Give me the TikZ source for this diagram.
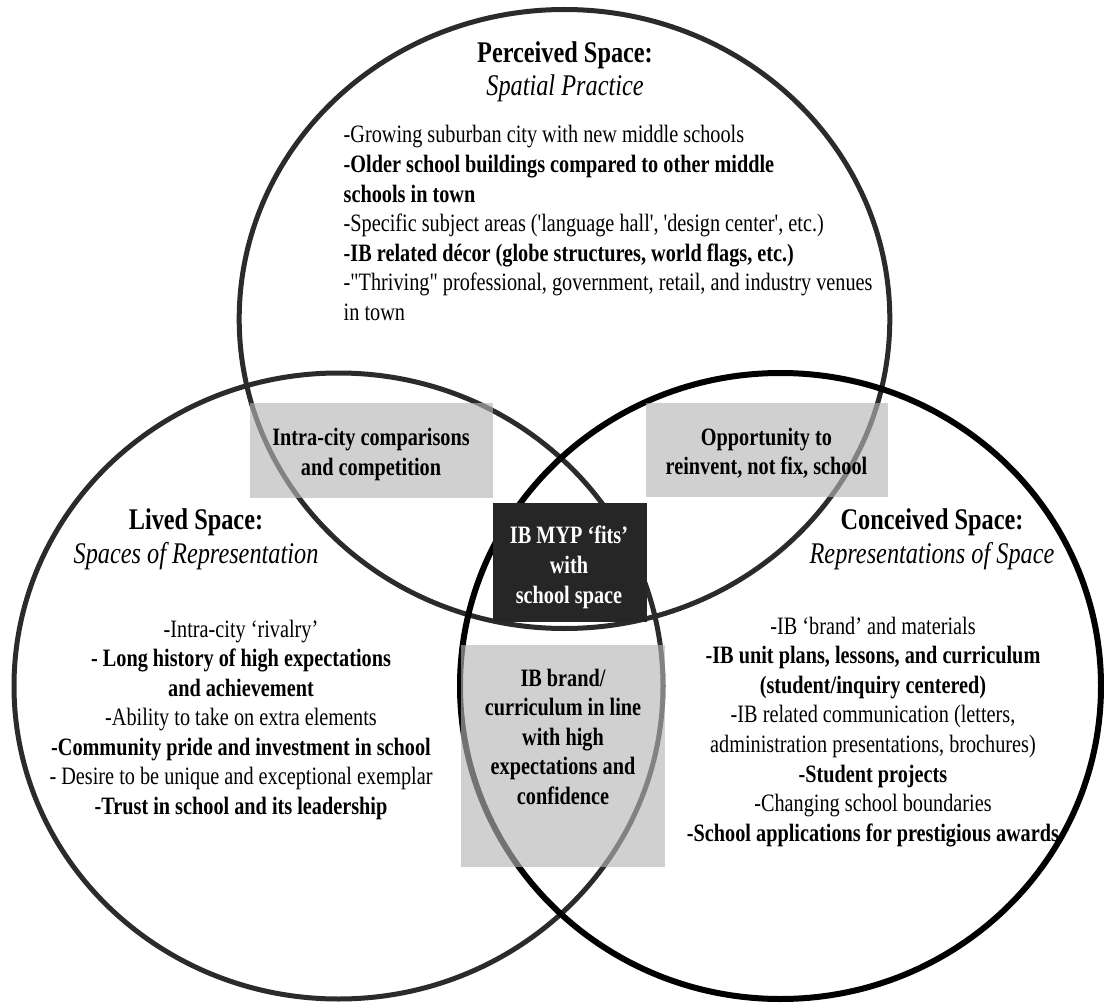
\documentclass[tikz,border=0pt]{standalone}
\usepackage{fontspec}
\setmainfont{Liberation Serif}[FakeStretch=0.81, Ligatures=TeXOff]
\begin{document}
\begin{tikzpicture}[x=1pt,y=-1pt,
  circA/.style={draw=black!83, line width=5pt},
  circB/.style={draw=black, line width=6pt},
  graybox/.style={fill=black!29, fill opacity=0.63, draw=none, inner sep=0pt},
  darkbox/.style={fill=black!85, draw=none, inner sep=0pt},
  body/.style={font=\fontsize{25}{29.5}\selectfont, inner sep=0pt},
  ttl/.style={font=\fontsize{30}{34}\selectfont\bfseries, inner sep=0pt},
  ttlit/.style={font=\fontsize{30}{34}\selectfont\itshape, inner sep=0pt}]
\useasboundingbox (0,0) rectangle (1104,1003);
% circles
\draw[circA] (564.5,319) ellipse [x radius=325.3, y radius=309.5];
\draw[circA] (338.5,686) ellipse [x radius=324.5, y radius=313];
\draw[circB] (780.5,686) ellipse [x radius=320.5, y radius=313];
% boxes
\node[graybox, minimum width=242.5pt, minimum height=95pt] (bintra) at (371.25,450.5) {};
\node[graybox, minimum width=242pt, minimum height=94pt] (bopp) at (766.5,450.2) {};
\node[graybox, minimum width=203.5pt, minimum height=222pt] (bbrand) at (562.75,756) {};
\node[darkbox, minimum width=153.5pt, minimum height=119pt] (bfits) at (569.75,562.2) {};
% titles
\node[ttl, anchor=base] (tperc) at (565,63) {Perceived Space:};
\node[ttlit, anchor=base] (tperc2) at (565,96) {Spatial Practice};
\node[ttl, anchor=base] (tlived) at (196,529) {Lived Space:};
\node[ttlit, anchor=base] (tlived2) at (196,563) {Spaces of Representation};
\node[ttl, anchor=base] (tconc) at (932,529) {Conceived Space:};
\node[ttlit, anchor=base] (tconc2) at (932,563) {Representations of Space};
% top list
\foreach \t [count=\i from 0] in {
  {-Growing suburban city with new middle schools},
  {\textbf{-Older school buildings compared to other middle}},
  {\textbf{schools in town}},
  {-Specific subject areas ('language hall', 'design center', etc.)},
  {\textbf{-IB related décor (globe structures, world flags, etc.)}},
  {-"Thriving" professional, government, retail, and industry venues},
  {in town}}
  \node[body, anchor=base west] (ptop\i) at (343.5,{143+29.6*\i}) {\t};
% lived list
\foreach \t [count=\i from 0] in {
  {-Intra-city ‘rivalry’},
  {\textbf{- Long history of high expectations}},
  {\textbf{and achievement}},
  {-Ability to take on extra elements},
  {\textbf{-Community pride and investment in school}},
  {- Desire to be unique and exceptional exemplar},
  {\textbf{-Trust in school and its leadership}}}
  \node[body, anchor=base] (plived\i) at (241,{637+29.5*\i}) {\t};
% conceived list
\foreach \t [count=\i from 0] in {
  {-IB ‘brand’ and materials},
  {\textbf{-IB unit plans, lessons, and curriculum}},
  {\textbf{(student/inquiry centered)}},
  {-IB related communication (letters,},
  {administration presentations, brochures)},
  {\textbf{-Student projects}},
  {-Changing school boundaries},
  {\textbf{-School applications for prestigious awards}}}
  \node[body, anchor=base] (pconc\i) at (873,{634+29.6*\i}) {\t};
% box texts
\foreach \t [count=\i from 0] in {{Intra-city comparisons},{and competition}}
  \node[body, font=\fontsize{25}{29.5}\selectfont\bfseries, anchor=base] (xintra\i) at (371,{445+30*\i}) {\t};
\foreach \t [count=\i from 0] in {{Opportunity to},{reinvent, not fix, school}}
  \node[body, font=\fontsize{25}{29.5}\selectfont\bfseries, anchor=base] (xopp\i) at (766.5,{445+29.5*\i}) {\t};
\foreach \t [count=\i from 0] in {{IB MYP ‘fits’},{with},{school space}}
  \node[body, font=\fontsize{25}{29.5}\selectfont\bfseries, text=white, anchor=base] (xfits\i) at (569,{543+30*\i}) {\t};
\foreach \t [count=\i from 0] in {{IB brand/},{curriculum in line},{with high},{expectations and},{confidence}}
  \node[body, font=\fontsize{25}{29.5}\selectfont\bfseries, anchor=base] (xbrand\i) at (563,{686+29.5*\i}) {\t};
\end{tikzpicture}
\end{document}
